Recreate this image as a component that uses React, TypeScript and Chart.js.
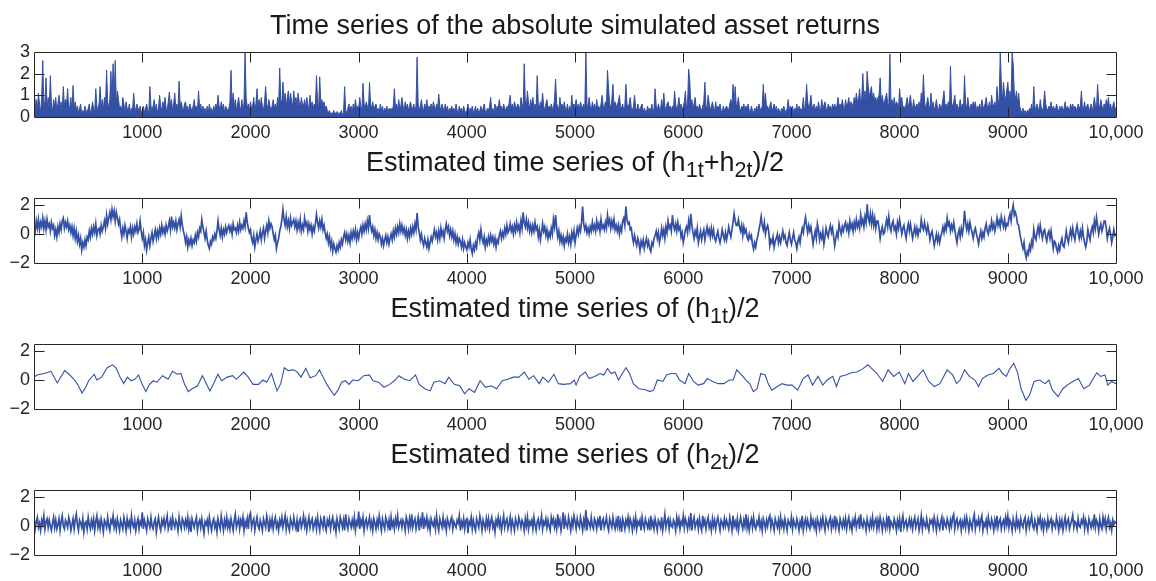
import React, { useEffect, useRef } from 'react';
import { Chart, registerables } from 'chart.js';

Chart.register(...registerables);

// ---------------- data ----------------
const X_TICKS = [1000, 2000, 3000, 4000, 5000, 6000, 7000, 8000, 9000, 10000];
const Y_TICKS_RET = [0, 1, 2, 3];
const Y_TICKS_H = [-2, 0, 2];

// absolute simulated returns, one reading every 10 observations (1..10000)
const ABS_RETURNS = [
  1.5,.4,.8,.3,1.1,.6,.2,.9,2.6,.5, .7,1.8,.4,.9,.3,1.9,.6,.2,.8,.5, .9,.3,.6,1.0,.4,.7,.2,1.4,.5,.8, .6,1.3,.3,.5,.9,.2,1.45,.4,.7,.3, .5,.2,.4,.6,.1,.3,.2,.5,.3,.2,
  .4,.6,.2,.3,.7,.4,.2,1.3,.5,.3, .6,1.4,.4,.8,.3,.9,.5,2.15,.7,.4, .8,2.1,.6,2.45,.9,2.6,.5,1.2,.8,.4, .5,.3,.9,.6,.2,.7,.4,.3,.6,.2, .4,.3,1.1,.5,.2,.6,.4,.3,.5,.2,
  .3,.5,.2,.4,.6,.3,.2,1.4,.5,.3, .5,.8,.3,.6,.2,.4,1.0,.5,.3,.7, .5,.9,.4,.3,.7,1.15,.5,.8,.3,.6, 1.1,.4,.6,.3,1.65,.5,.7,.4,.3,.6, .7,.3,.5,.2,.6,.4,.3,.5,.8,.4,
  .5,.3,1.2,.4,.6,.2,.5,.3,.4,.2, .5,.2,.6,.3,.4,.2,.5,.3,.6,.4, 1.0,.5,.3,.7,.4,.6,.2,.5,.4,.3, .4,.7,2.15,.6,1.1,.5,.8,.3,.6,.9, .5,.3,.8,.4,.6,3.0,.9,.4,.6,.3,
  .7,.4,.5,.9,.3,.6,1.3,.5,.8,.4, .9,.5,.3,.7,1.4,.6,.4,.8,.5,.3, .5,.8,.4,.6,.3,.9,.5,2.25,.8,.6, 1.6,.7,1.1,.5,.9,1.2,.6,1.1,.7,.5, 1.2,.6,.9,.5,1.1,.7,.4,.9,.6,.5,
  .8,.4,.9,.6,.3,1.0,.5,.7,.4,.6, .5,1.9,.7,.4,1.85,.6,.8,.5,.7,.4, .5,.3,.2,.3,.1,.2,.15,.3,.1,.2, .25,.1,.2,.15,.3,.1,.2,1.4,.3,.2, .4,.6,.3,.5,.2,.6,.3,.8,.4,.5,
  .4,.9,.5,.3,1.55,.6,.4,.7,.5,.3, 1.6,.6,.4,.7,.3,.5,.6,.3,.4,.2, .6,.3,.5,.2,.4,.3,.5,.2,.4,.3, .4,.3,.5,1.3,.4,.6,.3,.8,.4,.5, .9,.5,.3,.7,.4,.6,.3,.5,.7,.4,
  .4,.6,.3,.5,2.75,.6,.3,.5,.8,.4, .3,.6,.4,.8,.3,.5,.4,.6,.3,.7, .5,.3,.6,.4,1.05,.5,.3,.6,.4,.3, .6,.3,.5,.2,.4,.3,.5,.3,.4,.2, .6,.3,.2,.5,.3,.4,.2,.5,.3,.2,
  .3,.6,.2,.4,.3,.5,.2,.3,.5,.2, .4,.2,.3,.5,.2,.4,.6,.3,.2,.4, .3,.5,.9,.3,.4,.2,.6,.3,.5,.4, .8,.4,.5,.3,.6,.4,.3,.5,.4,.6, 1.0,.4,.6,.3,.7,.5,.4,.6,.5,.3,
  .9,.6,.4,2.45,.7,.5,1.2,.6,.4,.8, .5,.9,.4,.6,.3,1.9,.6,.4,.7,.5, 1.1,.5,.3,.6,.8,.4,.5,.3,.6,.4, .4,.8,1.75,.6,.5,.3,.9,.4,.6,.3, .7,.4,.3,.6,.2,.5,.3,1.0,.4,.6,
  .5,.8,.4,.6,.3,.7,.5,.4,.6,.3, 3.0,.6,.4,.9,.5,.3,.7,.4,.6,.3, .8,.4,.5,.3,.6,1.0,.5,.4,.7,.5, 2.15,1.3,.6,.4,.8,1.5,.5,.7,.4,.6, .7,1.0,.5,.4,.6,.3,.5,1.5,.6,.4,
  .6,.9,.4,.3,.5,1.0,.4,.3,.6,.4, .3,.5,.6,.2,.4,.3,.2,.5,.3,.4, .3,.6,.2,.4,1.3,.5,.3,.6,.4,.3, .8,.4,1.1,.5,.3,.6,.7,.4,.5,.3, .5,.4,1.2,.6,.3,.5,.9,.4,.6,.3,
  .5,.7,1.2,.4,.6,2.2,1.7,.5,.8,.4, .6,.9,.4,.5,.3,.6,.4,.3,.5,.7, 1.6,.5,.4,1.0,.6,.3,.5,.7,.4,.3, .7,.3,.5,.4,.6,.3,.2,.5,.3,.4, .5,.4,.3,.6,.8,.5,1.5,.6,1.4,.5,
  .6,.9,.4,.3,.5,.4,.6,.3,.5,.4, .6,.3,.2,.5,.3,.2,.4,.3,.5,.2, .6,.4,.3,.5,1.5,.6,1.1,.4,.5,.3, .5,.7,.3,.4,.6,.3,.5,.2,.4,.3, .2,.4,.3,.5,.3,.2,.4,.8,.3,.5,
  .3,.5,.2,.4,.3,.6,.2,.5,.4,.3, .4,.9,.3,.5,1.5,.7,.4,.6,1.0,.5, .4,.6,.3,.5,.3,.7,.4,.3,.8,.5, .5,.7,.4,.3,.6,.4,.5,.3,.6,.4, .6,.4,.5,.9,.5,.6,.4,.8,.5,.3,
  .8,.5,.6,.9,.4,.7,.6,.5,.9,.6, 1.1,.7,.8,1.3,.6,.9,2.0,.8,1.2,.7, 2.1,1.4,.9,1.2,1.4,.8,1.1,.7,.9,.6, .9,1.0,1.8,.7,1.0,.6,.7,.9,1.1,.6, .5,2.9,.6,.8,.4,.9,.5,.7,.6,.4,
  1.3,.6,.9,.4,.5,.3,.6,.9,.4,.7, 1.0,.5,.4,.8,.3,.5,.6,.4,.7,.3, 1.1,.6,1.95,.7,.4,.6,.9,.5,.4,1.1, .4,.7,.3,.5,.8,.4,.3,.6,.4,.5, .8,1.2,.5,.6,.4,.7,.3,2.35,.6,.5,
  .7,1.0,.4,.6,.3,.5,.8,.4,.6,.3, 1.9,.6,.4,.9,.5,.3,.6,.4,.7,.5, .7,.3,.5,.4,.6,.3,.8,.5,.4,.6, .9,.5,.4,.7,.3,1.0,.6,.5,.7,.4, 1.4,.8,.6,3.0,1.6,.7,1.6,1.0,.8,1.2,
  1.6,.9,1.2,.7,3.0,2.4,1.1,.8,1.2,.6, 1.1,.5,.3,.2,.4,.2,.3,.1,.3,.2, .4,.3,.6,.2,1.4,.5,.3,.6,.4,.3, .8,.4,.3,.5,1.2,.6,.4,.3,.5,.4, .7,.3,.5,.4,.3,.6,.4,.2,.5,.3,
  .5,.3,.4,.7,.3,.5,.4,.3,.6,.4, .6,.3,.5,.4,.3,.6,.4,.5,1.2,.4, .4,.7,.3,.5,.6,.3,.4,.6,.3,.5, .9,.5,.4,1.5,.6,.4,.8,.5,.3,.6, .4,.8,.5,.9,.4,.6,.3,.5,.7,.4,
  .4
];

// estimated (h1t+h2t)/2, one reading every 10 observations
const H_SUM = [
  .6,.2,.9,.4,1.0,.3,.8,.5,1.1,.4, .9,.3,1.0,.5,.7,.2,.8,.4,.6,-.1, .3,-.2,.5,.1,.7,.3,.9,1.1,.4,.8, .5,.9,.3,.6,.1,.5,-.1,.4,-.3,.2, -.5,-.1,-.7,-.3,-1.1,-.6,-.9,-.4,-.8,-.2,
  -.4,.2,-.2,.4,0,.5,.1,.7,-.1,.3, .4,0,.6,.2,.5,.9,.4,1.3,.7,1.1, 1.5,1.0,1.7,1.2,1.6,.9,1.5,1.1,.7,1.0, .3,-.2,.4,0,.6,.2,-.3,.3,.1,.5, -.2,.4,0,.5,.2,.7,.1,.3,.9,.2,
  -.3,.1,-.8,-.4,-1.1,-.6,-.2,-.8,-.3,.1, -.5,-.1,.3,-.3,.2,-.2,.4,0,.6,.1, .4,0,.6,.2,.5,.9,.3,1.2,.5,.8, .4,.9,.3,.7,1.0,.5,1.25,.6,.2,-.1, -.6,-.2,-.9,-.4,-.7,-.3,-.8,-.4,-.6,-.1,
  -.5,.1,-.2,.4,.2,1.0,.5,.1,-.3,.2, -.4,-.8,-1.0,-.5,-.7,-.2,-.4,0,-.3,.2, .9,.3,-.1,.4,-.2,.3,0,.5,.1,.4, .6,.2,.5,0,.7,.3,.4,.1,.6,.2, .8,.3,.6,.4,.9,.5,1.5,.8,.4,.1,
  .3,-.3,-.6,-.1,-.9,-.4,0,-.5,-.2,.2, -.4,.1,.4,-.3,.2,.6,.1,.9,.4,.7, .5,0,-.4,-.1,-1.0,-.6,-.3,.2,.5,1.0, 1.7,1.0,.6,1.2,.5,.9,.4,1.1,.6,.8, 1.0,.5,.9,.3,.8,.4,1.0,.2,.6,.3,
  1.1,.6,.8,.2,.7,.3,.6,0,.5,.2, .7,1.35,.8,.4,.9,.5,1.0,.3,.6,.1, -.3,0,-.6,-.2,-.9,-.5,-1.2,-.7,-1.0,-1.25, -.8,-1.1,-.6,-.9,-.4,-.7,-.2,.1,-.4,0, -.5,-.1,-.6,.1,-.3,.2,-.2,.3,-.4,.1,
  -.3,.2,.5,0,.6,.2,.7,.3,.9,.4, 1.3,.6,.2,.5,-.1,.3,-.3,.1,-.4,0, -.2,-.7,-.3,-.8,-.4,-.1,-.6,-.2,-.7,-.3, 0,-.4,.2,-.2,.4,0,.5,.1,.7,.2, .6,.1,.4,-.1,.3,-.3,.2,-.2,.4,0,
  .5,.1,.7,.3,1.45,.5,.1,-.4,0,-.5, -.8,-.3,-.6,-.9,-.4,-1.0,-.6,-.2,-.5,-.1, .3,-.2,.1,-.4,.2,-.3,.4,-.1,.2,-.3, .3,.7,.2,.5,-.1,.3,-.2,.2,-.4,0, -.6,-.2,-.7,-.3,-.5,-.9,-.4,-1.0,-.6,-.9,
  -1.1,-.6,-.9,-.4,-1.0,-1.35,-.8,-1.1,-.6,-.9, -.2,.1,-.4,.3,-.3,-.6,-.2,-.9,-.4,-.7, -.2,-.6,-.1,-.5,-.2,-.7,-.3,-.9,-.4,-.6, -.1,.2,-.3,.1,-.2,.4,0,.6,.1,.3, .7,.2,.5,0,.6,.2,.8,.3,.6,.1,
  .9,.4,1.5,.8,.5,1.0,.4,.8,.2,.6, .1,.6,.2,.8,.3,.5,-.2,.3,-.4,.1, .7,.2,.5,-.1,.3,-.3,.1,-.2,.4,0, 1.0,.5,1.3,.4,-.2,.2,-.5,-.1,-.6,-.2, -.8,-.3,-.5,0,-.6,-.2,-.7,.1,-.3,.2,
  -.6,-.1,.4,0,.5,.2,.8,1.9,.7,.3, .6,.1,.4,0,.5,.2,.8,.3,.6,.2, .9,.4,.7,.2,1.0,.4,.6,.3,.8,.4, 1.3,.7,1.0,.4,.9,.5,1.0,.3,.6,.2, .6,0,.5,.2,.9,1.1,.6,1.9,1.0,.7,
  .8,.3,.4,-.2,-.6,-.1,-.5,-.8,-.3,-.6, -1.15,-.5,-.8,-.4,-1.0,-.6,-.3,-.8,-.5,-1.0, -1.2,-.6,-.8,-.3,-.1,.2,-.3,.1,-.6,-.2, .4,-.1,.3,-.3,.5,.1,.9,.4,.6,.2, 1.3,.6,.3,.7,.2,.8,.3,.5,-.2,.1,
  -.6,-.2,.3,.5,.1,.9,.4,1.4,.6,.1, -.3,.2,-.1,.4,-.6,-.2,.2,-.4,0,.3, -.4,.1,.5,0,.3,-.2,.4,-.1,.3,-.3, -.5,-.1,.2,-.3,-.6,-.2,.3,-.1,-.4,.1, -.4,0,.5,.1,-.2,.3,.8,1.4,.9,.6,
  .6,1.0,.5,.2,.6,-.1,.5,.1,.3,-.2, -.4,0,-.3,-.1,-.7,-1.05,-.6,-.9,-.4,-.1, .3,.7,1.2,.6,.3,.8,0,.4,.6,.2, -.8,-.4,-.6,-.2,-.9,-.5,-.3,0,-.6,-.2, -.6,-.2,.2,-.3,-.1,-.6,-.8,-.3,.1,-.4,
  -.7,-.3,.1,-.4,-.6,-1.0,-.5,-.2,-.6,0, .4,.1,.7,1.15,.6,.1,.6,.2,.5,-.1, -.7,-.2,.2,-.3,.7,.3,-.4,0,-.3,.2, -.7,-.2,.4,0,-.2,.3,.6,.1,.4,-.2, -.8,-.3,.1,-.2,.7,.3,0,.5,.2,.6,
  .8,.3,.6,.1,.9,.4,.7,.2,.8,.4, 1.0,.5,.8,.4,1.3,.7,1.0,.5,1.2,.8, 2.05,1.1,.8,1.4,.7,1.3,.6,1.1,.4,.9, .9,.4,-.3,.2,.5,0,.1,.6,1.0,.5, 1.2,.5,.2,.7,.9,.3,.5,0,.8,.4,
  1.0,.5,0,.4,.6,.1,-.3,.3,.7,.2, .7,.2,-.3,.1,.5,0,.4,-.1,.3,.2, 1.0,.5,.3,.8,.4,.1,.6,.2,-.4,0, .2,-.3,-.8,-.4,0,-.5,-.1,-.6,-.2,.1, .5,.1,.6,.3,1.1,.6,.8,.2,.6,.3,
  .8,.3,-.2,-.6,0,.3,-.2,.4,0,.5, 1.6,.8,.3,.7,.2,.8,.4,.1,-.3,.2, .4,0,-.3,-.7,-.2,.2,-.3,.1,-.2,.4, .7,.2,0,.5,.3,.9,.4,.7,.2,.6, 1.1,.6,.9,.5,1.2,.8,.5,1.0,.4,.7,
  .6,1.1,1.4,.9,1.6,2.0,1.3,1.5,1.2,.7, .6,.1,-.3,-.7,-1.0,-.6,-1.3,-1.65,-1.2,-1.4, -.8,-1.1,-.5,-.8,.3,-.2,-.4,.1,.5,0, .6,.1,-.3,.2,.3,-.2,-.5,0,.2,-.3, .2,-.4,-1.0,-.5,-.6,-1.0,-1.25,-.8,-1.1,-.6,
  -.3,-.8,-.9,-.4,.2,-.3,-.6,-.1,.3,-.2, .4,-.1,-.4,.2,.6,.1,-.3,.2,-.2,.4, -.2,-.6,-.9,-.5,.3,-.1,-.4,.2,.5,.1, .9,.4,1.15,.6,0,.4,.7,.2,.5,.9, .9,.4,-.3,.1,.4,0,-.6,-.2,.3,-.1,
  0
];

// estimated h1t/2 (smooth component): observation index and value
const H1_X = [
  1,27,96,157,215,283,317,369,403,444,478,505,556,580,625,676,727,761,795,829,863,898,932,966,1000,1034,1068,1102,1137,1188,1239,1280,1324,1358,1392,1427,1461,1512,1556,1580,
  1625,1666,1700,1734,1785,1836,1870,1939,1980,2024,2075,2116,2150,2195,2246,2280,2314,2348,2399,2433,2468,2512,2553,2604,2638,2672,2706,2741,2775,2809,2843,2877,2911,2945,2997,
  3048,3099,3133,3184,3235,3287,3338,3372,3423,3474,3526,3560,3611,3662,3696,3747,3799,3833,3884,3935,3980,4020,4072,4123,4174,4225,4276,4328,4379,4430,4481,4532,4573,4618,4669,
  4703,4754,4805,4846,4891,4959,4993,5010,5044,5096,5130,5181,5232,5266,5300,5334,5369,5403,5437,5471,5505,5539,5590,5642,5693,5727,5761,5812,5846,5891,5932,5966,6017,6051,6096,
  6137,6188,6222,6273,6324,6375,6427,6461,6495,6539,6580,6614,6648,6683,6717,6758,6785,6819,6870,6915,6956,7007,7058,7109,7154,7195,7246,7290,7331,7382,7416,7451,7502,7553,7604,
  7655,7707,7741,7792,7843,7894,7945,7997,8048,8082,8123,8167,8218,8270,8321,8372,8440,8491,8526,8560,8601,8645,8696,8730,8765,8816,8867,8918,8952,8986,9020,9055,9089,9123,9167,
  9201,9242,9293,9345,9379,9413,9464,9509,9549,9601,9652,9703,9754,9822,9857,9898,9925,9959,10000
];
const H1_Y = [
  0.2,0.35,0.45,0.6,-0.2,0.65,0.45,0.05,-0.3,-0.9,-0.5,-0.05,0.4,0,0.2,0.85,1.05,0.8,0.2,-0.25,0.2,-0.05,0.05,0.35,-0.3,-0.8,-0.3,-0.05,-0.15,0.3,0.05,0.6,0.4,0.45,-0.3,-0.8,-0.6,-0.4,0.3,-0.05,
  -0.75,-0.15,0.4,-0.05,0.2,0.3,0.05,0.55,0.2,-0.3,-0.3,0,-0.15,0.45,-0.75,-0.25,0.85,0.65,0.7,0.55,0.2,0.8,0.15,0.3,0.7,0.2,-0.3,-0.7,-1.05,-0.7,-0.15,-0.05,-0.3,0,-0.05,
  0.3,0.35,-0.05,-0.15,-0.5,-0.3,0,0.3,0.05,-0.05,0.35,-0.3,-0.6,-0.75,-0.15,-0.05,-0.25,0.2,-0.3,-0.4,-0.95,-0.6,-0.85,-0.05,-0.5,-0.4,-0.6,-0.05,0.05,0.2,0.2,0.55,0.05,0.3,-0.25,
  0.2,-0.15,0.4,-0.25,-0.3,-0.25,0,-0.35,0.25,0.55,0.1,0.25,0.45,0.35,0.8,0.45,0.55,0,0.45,0.85,0.45,-0.25,-0.6,-0.65,-0.8,-0.7,0,-0.1,0.35,0.45,0.45,0,-0.25,0.45,-0.1,
  -0.35,-0.25,0.1,-0.1,-0.25,-0.25,0,0,0.7,0.35,0,-0.25,-0.8,-0.6,0.45,0.35,-0.25,-0.7,-0.45,-0.25,-0.35,-0.35,-0.7,0.1,0.35,-0.35,0.25,-0.35,0,0.25,-0.45,0.25,0.35,0.5,0.55,
  0.75,1.05,0.8,0.45,-0.1,0.7,0.25,0.55,-0.25,0.45,-0.1,0.25,0.7,-0.1,-0.45,-0.25,0.7,0.35,-0.25,0,0.7,0.25,0,-0.45,0.1,0.35,0.45,0.8,0.45,0.25,0.8,1.15,0.55,-0.6,-1.4,
  -1.05,-0.1,0,-0.25,0,-0.7,-1.15,-0.6,-0.35,-0.1,0.1,-0.6,-0.35,0.5,0.25,0.35,-0.35,-0.1,-0.25
];

// estimated h2t/2 (noise component), one reading every 10 observations
const H2 = [
  .5,-.2,.3,.6,-.1,.2,-.3,.4,.1,.7, -.2,.3,.5,-.1,.4,0,-.3,.2,.6,-.1, .4,-.2,.1,.5,-.3,.3,.7,0,-.2,.4, .2,-.1,.6,.3,-.3,.1,.5,-.2,.4,.8, .1,-.3,.4,.2,-.1,.5,-.4,.2,.3,-.2,
  .6,.1,-.2,.4,0,.5,-.3,.3,.7,-.1, .3,-.2,.5,.1,-.4,.4,.2,-.1,.6,0, -.3,.4,.2,.7,-.1,.3,-.2,.5,.1,-.3, .4,.1,-.2,.6,.2,-.3,.5,0,.3,-.2, .7,.1,-.1,.4,-.3,.2,.5,-.2,.3,.1,
  .95,-.2,.4,.1,-.3,.5,.2,-.1,.6,0, -.2,.3,.5,-.4,.2,.6,0,-.3,.4,.1, .5,-.1,.3,.7,-.2,.1,.4,-.3,.6,.2, -.1,.4,.2,-.3,.6,.1,-.2,.5,.3,-.1, .4,0,.6,-.2,.3,-.4,.5,.2,-.1,.3,
  .6,-.3,.2,.4,-.1,.5,0,-.5,.3,.1, .4,-.2,.6,.1,-.3,.3,.5,-.1,.2,-.4, .5,.1,-.2,.7,.2,-.3,.4,0,.6,-.1, .3,-.2,.5,.1,-.3,.4,.8,-.1,.2,.5, -.2,.4,.1,.6,-.3,.3,0,.5,-.2,.7,
  .9,-.1,.3,.5,-.3,.2,.6,0,-.2,.4, .1,-.3,.5,.2,-.1,.7,.3,-.4,.4,0, .5,-.2,.3,.6,-.1,.2,-.3,.4,.1,.6, -.1,.3,.7,-.2,.4,0,-.3,.5,.2,-.1, .6,.1,-.2,.4,-.4,.3,.5,-.1,.2,.7,
  0,.4,-.3,.2,.6,-.1,.3,.5,-.2,.1, .4,-.2,.6,.1,-.3,.5,.2,-.1,.7,0, -.3,.4,.1,.5,-.2,.3,.6,-.1,.2,-.4, .5,.1,-.2,.6,.3,-.1,.4,-.3,.8,.1, -.2,.5,.2,-.1,.4,0,.6,-.3,.3,.1,
  1.0,-.2,.4,.1,.6,-.3,.3,.5,-.1,.2, .6,-.1,.3,-.3,.5,.2,-.2,.4,0,.7, .2,-.3,.5,.1,-.2,.6,.3,-.1,.4,-.3, .6,0,.3,-.2,.5,.1,.7,-.1,.2,.4, -.1,.4,.2,-.3,.6,.3,-.2,.5,0,.8,
  -.1,.3,.5,-.2,.2,.6,-.3,.4,.1,.95, -.2,.4,.1,.6,-.1,.3,-.3,.5,.2,0, .4,-.2,.7,.1,-.3,.5,.2,-.1,.6,0, .3,-.3,.5,.2,-.1,.4,.6,-.2,.3,.1, -.1,.4,.2,.7,-.3,.3,0,.5,-.2,.4,
  .5,-.5,.3,.1,.6,-.2,.4,0,-.3,.5, .2,-.1,.7,.3,-.3,.4,.1,-.2,.5,0, .5,-.2,.3,.6,-.1,.2,-.4,.4,.1,.6, 0,.4,-.3,.2,.7,-.1,.3,.5,-.2,.1, .6,-.2,.4,.1,-.3,.5,.2,-.1,.6,.3,
  -.1,.4,.2,-.3,.5,0,.6,-.2,.3,.1, .4,-.2,.6,.1,-.3,.3,.5,-.1,.2,.7, -.2,.3,.1,.5,-.1,.4,0,-.3,.6,.2, .5,-.1,.3,-.2,.8,.1,.4,-.3,.2,.95, -.2,.5,.1,-.1,.6,.2,-.3,.4,0,.7,
  .3,-.2,.5,.1,-.1,.6,.2,-.3,.4,0, 1.1,-.3,.4,.2,-.1,.6,0,-.2,.5,.3, -.2,.4,.1,.7,-.3,.3,.5,-.1,.2,.6, 0,-.3,.5,.2,-.1,.6,.1,-.2,.4,0, .7,-.1,.3,-.4,.5,.2,-.2,.4,.1,.6,
  -.1,.5,.2,-.3,.4,0,.6,-.2,.3,.1, .4,-.3,.6,.1,-.2,.5,.2,-.1,.3,-.3, .7,0,.3,-.2,.5,.1,-.3,.4,.2,-.1, .6,-.3,.2,.8,-.1,.3,.5,-.2,.4,0, -.1,.4,.2,-.3,.6,.1,.5,-.2,.3,.1,
  .7,-.1,.5,.2,-.2,.4,0,.9,-.3,.3, .6,-.1,.2,.4,-.2,.5,0,-.3,.7,.1, .4,-.2,.3,.6,-.1,.2,-.3,.5,0,.4, -.2,.3,.6,.1,-.3,.4,.2,-.1,.5,0, .4,.1,-.2,.6,.2,-.3,.7,0,.3,-.1,
  .5,-.3,.2,.6,.1,-.2,.4,0,.8,-.1, .4,-.3,.2,.5,-.1,.6,0,-.2,.3,.1, .6,-.1,.3,-.3,.5,.2,-.2,.4,0,.5, .7,-.1,.4,.1,-.3,.5,.2,-.1,.4,-.2, .6,0,.3,-.2,.5,.1,-.3,.4,.2,0,
  .6,-.2,.4,.1,-.1,.5,.2,-.3,.3,0, .7,-.3,.2,.5,-.1,.4,0,-.2,.6,.1, .4,-.1,.3,-.3,.5,.2,-.2,.4,0,.6, .1,-.3,.5,.2,-.1,.4,.6,-.2,.3,0, .7,-.1,.4,.1,-.3,.5,.2,-.1,.4,0,
  .5,-.2,.3,.6,-.1,.2,-.3,.4,.1,.6, -.1,.3,.5,-.2,.8,.1,-.1,.4,.2,-.3, .5,.1,-.2,.4,0,.6,-.1,.3,.5,-.2, .4,-.1,.6,.2,-.3,.4,.1,-.2,.5,0, .7,-.2,.3,.1,-.1,.5,.2,-.3,.4,0,
  .5,-.4,.3,.7,-.1,.2,.4,-.2,.1,.5, 0,.4,-.2,.3,.6,-.1,.2,.5,-.3,.1, .7,-.2,.4,.1,-.1,.5,0,-.3,.4,.2, .4,-.1,.6,.2,-.3,.5,.1,-.2,.3,.6, -.3,.4,.1,-.1,.5,.2,-.2,.4,0,.6,
  .8,-.2,.3,.5,-.1,.2,.4,-.3,.3,0, .5,-.1,.6,.2,-.3,.4,.1,-.2,.5,.8, -.2,.3,.1,.5,-.1,.4,.7,-.3,.2,0, .4,-.2,.6,.1,-.1,.5,.2,-.3,.4,0, .7,-.1,.3,.5,-.2,.2,.4,-.1,.6,.1,
  .7,-.1,.4,.2,-.3,.5,.1,-.2,.6,0, .3,-.2,.5,.1,-.1,.4,.6,-.3,.2,.5, -.1,.3,.7,0,-.2,.4,.1,-.3,.5,.2, .6,-.1,.3,-.3,.4,.2,-.2,.5,0,.3, .5,-.2,.3,.1,-.1,.6,.2,-.3,.4,0,
  .4,-.3,.2,.6,-.1,.3,.5,-.2,.1,.4, .75,-.1,.3,.2,-.2,.5,0,-.1,.4,.2, .6,-.2,.4,.1,-.3,.5,.2,-.1,.3,0, .8,-.1,.4,.2,-.3,.5,0,-.2,.6,.1, .5,-.2,.3,.6,-.1,.2,-.3,.4,.1,.3,
  .2
];

// ---------------- styling ----------------
const BLUE = 'rgb(52,80,164)';
const AXIS = '#262626';
const FONT = "'Liberation Sans', Arial, Helvetica, sans-serif";
const FIG_W = 1156;
const FIG_H = 581;
const PLOT_LEFT = 34;
const PLOT_RIGHT = 1116;
const PLOT_H = 66;
const PAD_TOP = 14;
const XAXIS_H = 28;
const TICK_LEN = 10;
const N_FIRST = 1;
const N_LAST = 10000;

// positions of an evenly sampled series on the observation axis
const onGrid = (values: number[]) =>
  values.map((v, i) => ({ x: N_FIRST + (i * (N_LAST - N_FIRST)) / (values.length - 1), y: v }));

type PanelDef = {
  top: number;
  yMin: number;
  yMax: number;
  yTicks: number[];
  fill: boolean;
  lineWidth: number;
  points: { x: number; y: number }[];
};

const PANELS: PanelDef[] = [
  { top: 51, yMin: 0, yMax: 3, yTicks: Y_TICKS_RET, fill: true, lineWidth: 1, points: onGrid(ABS_RETURNS) },
  { top: 197, yMin: -2, yMax: 2.5, yTicks: Y_TICKS_H, fill: false, lineWidth: 1.7, points: onGrid(H_SUM) },
  { top: 343, yMin: -2, yMax: 2.5, yTicks: Y_TICKS_H, fill: false, lineWidth: 1.1, points: H1_X.map((x, i) => ({ x, y: H1_Y[i] })) },
  { top: 489, yMin: -2, yMax: 2.5, yTicks: Y_TICKS_H, fill: false, lineWidth: 1.7, points: onGrid(H2) },
];

const boxPlugin = {
  id: 'matlabBox',
  afterDatasetsDraw(chart: any) {
    const { ctx, chartArea: a, scales } = chart;
    const L = Math.round(a.left) + 0.5;
    const R = Math.round(a.right) + 0.5;
    const T = Math.round(a.top) + 0.5;
    const B = Math.round(a.bottom) + 0.5;
    ctx.save();
    ctx.strokeStyle = AXIS;
    ctx.lineWidth = 1;
    ctx.beginPath();
    ctx.rect(L, T, R - L, B - T);
    for (const t of scales.x.ticks) {
      const px = Math.round(scales.x.getPixelForValue(t.value)) + 0.5;
      if (px <= L + 1 || px >= R - 1) continue;
      ctx.moveTo(px, B);
      ctx.lineTo(px, B - TICK_LEN);
      ctx.moveTo(px, T);
      ctx.lineTo(px, T + TICK_LEN);
    }
    for (const t of scales.y.ticks) {
      const py = Math.round(scales.y.getPixelForValue(t.value)) + 0.5;
      if (py <= T + 1 || py >= B - 1) continue;
      ctx.moveTo(L, py);
      ctx.lineTo(L + TICK_LEN, py);
      ctx.moveTo(R, py);
      ctx.lineTo(R - TICK_LEN, py);
    }
    ctx.stroke();
    ctx.restore();
  },
};

function Panel({ def }: { def: PanelDef }) {
  const ref = useRef<HTMLCanvasElement | null>(null);
  useEffect(() => {
    if (!ref.current) return;
    const chart = new Chart(ref.current, {
      type: 'line',
      data: {
        datasets: [
          {
            data: def.points,
            borderColor: BLUE,
            backgroundColor: BLUE,
            borderWidth: def.lineWidth,
            pointRadius: 0,
            fill: def.fill ? 'origin' : false,
            tension: 0,
          },
        ],
      },
      options: {
        animation: false,
        responsive: false,
        maintainAspectRatio: false,
        events: [],
        layout: { padding: { top: PAD_TOP, right: FIG_W - PLOT_RIGHT, left: 0, bottom: 0 } },
        plugins: { legend: { display: false }, tooltip: { enabled: false }, title: { display: false } },
        scales: {
          x: {
            type: 'linear',
            min: 0,
            max: 10000,
            grid: { display: false, drawTicks: false },
            border: { display: false },
            afterBuildTicks: (s: any) => {
              s.ticks = X_TICKS.map((v) => ({ value: v }));
            },
            afterFit: (s: any) => {
              s.height = XAXIS_H;
            },
            ticks: {
              autoSkip: false,
              maxRotation: 0,
              padding: 5,
              color: AXIS,
              font: { family: FONT, size: 18 },
              callback: (v: any) => (Number(v) === 10000 ? '10,000' : String(v)),
            },
          },
          y: {
            type: 'linear',
            min: def.yMin,
            max: def.yMax,
            grid: { display: false, drawTicks: false },
            border: { display: false },
            afterBuildTicks: (s: any) => {
              s.ticks = def.yTicks.map((v) => ({ value: v }));
            },
            afterFit: (s: any) => {
              s.width = PLOT_LEFT;
            },
            ticks: {
              autoSkip: false,
              padding: 4,
              color: AXIS,
              font: { family: FONT, size: 18 },
              callback: (v: any) => (Number(v) < 0 ? '\u2212' + Math.abs(Number(v)) : String(v)),
            },
          },
        },
      },
      plugins: [boxPlugin],
    } as any);
    return () => chart.destroy();
  }, [def]);

  return (
    <canvas
      ref={ref}
      width={FIG_W}
      height={PAD_TOP + PLOT_H + XAXIS_H}
      style={{ position: 'absolute', left: 0, top: def.top - PAD_TOP, width: FIG_W, height: PAD_TOP + PLOT_H + XAXIS_H }}
    />
  );
}

const subStyle: React.CSSProperties = { fontSize: '0.8em', verticalAlign: '-0.3em' };

const TITLE_TOPS = [11, 148, 294, 440];

const TITLES: React.ReactNode[] = [
  <>Time series of the absolute simulated asset returns</>,
  <>
    Estimated time series of (h<span style={subStyle}>1t</span>+h<span style={subStyle}>2t</span>)/2
  </>,
  <>
    Estimated time series of (h<span style={subStyle}>1t</span>)/2
  </>,
  <>
    Estimated time series of (h<span style={subStyle}>2t</span>)/2
  </>,
];

export default function App() {
  return (
    <div
      style={{
        position: 'absolute',
        left: 0,
        top: 0,
        width: FIG_W,
        height: FIG_H,
        overflow: 'hidden',
        background: '#ffffff',
      }}
    >
      {PANELS.map((p, i) => (
        <Panel key={i} def={p} />
      ))}
      {TITLES.map((t, i) => (
        <div
          key={'t' + i}
          style={{
            position: 'absolute',
            left: PLOT_LEFT,
            width: PLOT_RIGHT - PLOT_LEFT,
            top: TITLE_TOPS[i],
            textAlign: 'center',
            fontFamily: FONT,
            fontSize: 27,
            lineHeight: '28px',
            color: '#1a1a1a',
            whiteSpace: 'nowrap',
          }}
        >
          {t}
        </div>
      ))}
    </div>
  );
}
